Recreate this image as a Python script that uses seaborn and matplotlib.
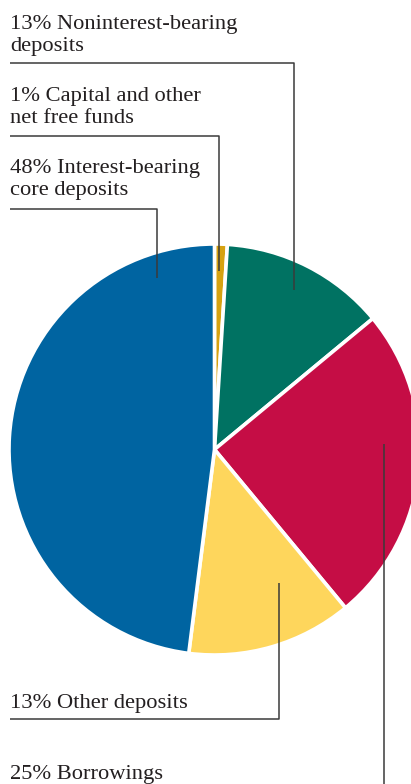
import matplotlib
matplotlib.use("Agg")
import matplotlib.pyplot as plt
import seaborn as sns

# Funding mix, clockwise from 12 o'clock
shares = [1, 13, 25, 13, 48]
labels = [
    ["1% Capital and other", "net free funds"],
    ["13% Noninterest-bearing", "deposits"],
    ["25% Borrowings"],
    ["13% Other deposits"],
    ["48% Interest-bearing", "core deposits"],
]
colors = ["#d6a211", "#007262", "#c50d45", "#fed65c", "#0064a1"]

sns.set_theme(style="white")
plt.rcParams["font.family"] = ["Liberation Serif", "DejaVu Serif"]

W, H = 411, 784
fig = plt.figure(figsize=(W / 100, H / 100), dpi=100)
ax = fig.add_axes([0, 0, 1, 1])

cx, cy, r = 214.5, H - 449.5, 205.5
ax.pie(shares, colors=colors, startangle=90, counterclock=False,
       center=(cx, cy), radius=r, frame=True,
       wedgeprops=dict(edgecolor="white", linewidth=2.6))
ax.set_xlim(0, W)
ax.set_ylim(0, H)
ax.set_aspect("equal")
ax.axis("off")

txt = dict(fontsize=16.2, color="#231f20", ha="left", va="baseline")
line = dict(color="#3a3a3a", lw=1.1, solid_capstyle="butt")

def Y(y):
    return H - y

# label blocks: (label index, baselines, leader path in pixel coords)
blocks = [
    (1, [29, 51], [(10, 63), (294, 63), (294, 290)]),
    (0, [101, 123], [(10, 136), (219, 136), (219, 271)]),
    (4, [173, 195], [(10, 209), (157, 209), (157, 278)]),
    (3, [708], [(10, 719), (279, 719), (279, 583)]),
    (2, [779], [(384, 790), (384, 444)]),
]
for idx, bases, path in blocks:
    for s, b in zip(labels[idx], bases):
        ax.text(10, Y(b), s, **txt)
    xs = [p[0] for p in path]
    ys = [Y(p[1]) for p in path]
    ax.plot(xs, ys, **line)

fig.savefig("out.png", dpi=100, facecolor="white")
